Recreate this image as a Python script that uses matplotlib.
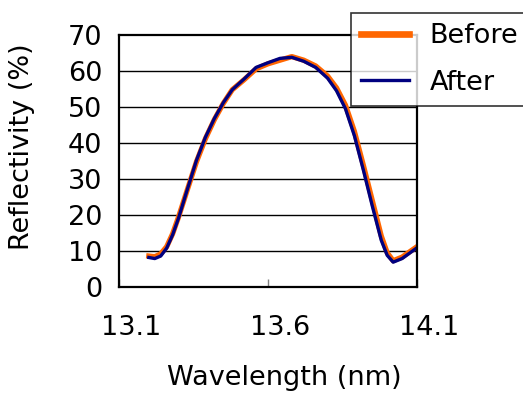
#!/usr/bin/env python3

import numpy as np
import matplotlib
matplotlib.use("Agg")
import matplotlib.pyplot as plt
import matplotlib.transforms as mtransforms

# wavelength (nm) and reflectivity (%)
wavelength = [13.20, 13.22, 13.24, 13.26, 13.28, 13.30, 13.33, 13.36, 13.39, 13.42,
              13.45, 13.48, 13.52, 13.56, 13.60, 13.64, 13.68, 13.72, 13.76, 13.80,
              13.83, 13.86, 13.89, 13.92, 13.95, 13.98, 14.00, 14.02, 14.05, 14.10]
before = [8.6, 8.4, 9.2, 11.2, 14.8, 19.5, 27.2, 34.8, 41.2, 46.5,
          51.0, 54.8, 57.6, 60.6, 62.0, 63.0, 64.0, 63.0, 61.4, 58.6,
          55.3, 50.5, 43.2, 33.8, 24.0, 14.2, 9.5, 7.3, 8.3, 11.2]
after = [8.2, 7.9, 8.6, 10.8, 14.5, 19.2, 27.3, 35.2, 41.6, 46.8,
         51.2, 54.8, 57.8, 61.0, 62.3, 63.5, 63.8, 62.7, 61.0, 58.0,
         54.5, 49.5, 42.0, 32.5, 22.5, 13.0, 8.8, 6.9, 7.9, 10.9]
xticks = [13.1, 13.6, 14.1]
yticks = [0, 10, 20, 30, 40, 50, 60, 70]

plt.rcParams['font.family'] = ['DejaVu Sans']
fs = 19.5

W, H = 523, 394
fig = plt.figure(figsize=(W/100, H/100), dpi=100)
ax = fig.add_axes([119/W, 1-287/H, 298/W, 252/H])

ax.plot(wavelength, before, color='#ff6600', lw=3.8, label='Before',
        solid_joinstyle='round')
ax.plot(wavelength, after, color='#000080', lw=2.4, label='After',
        solid_joinstyle='round')

ax.set_xlim(13.1, 14.1)
ax.set_ylim(0, 70)
ax.set_xticks(xticks)
ax.set_xticklabels(['13.1', '13.6', '14.1'])
ax.set_yticks(yticks)

for y in yticks[1:-1]:
    ax.axhline(y, color='black', lw=1, zorder=0)

ax.tick_params(axis='y', length=0, pad=12, labelsize=fs)
ax.tick_params(axis='x', direction='in', length=6, color='gray', width=1, pad=20, labelsize=fs)
# tick labels sit a bit to the right in the original
shift = mtransforms.ScaledTranslation(12/100, 0, fig.dpi_scale_trans)
for lab in ax.get_xticklabels():
    lab.set_transform(lab.get_transform() + shift)

for s in ax.spines.values():
    s.set_linewidth(1.6)
    s.set_color('black')

ax.set_xlabel('Wavelength (nm)', fontsize=fs, va='center')
ax.xaxis.set_label_coords((284-119)/298, (287-378)/252)
ax.set_ylabel('Reflectivity (%)', fontsize=fs, va='center')
ax.yaxis.set_label_coords((22-119)/298, (287-147)/252)

leg = fig.legend(loc='upper left', bbox_to_anchor=(351/W, 1-13/H), fontsize=fs,
                 frameon=True, fancybox=False, borderaxespad=0, borderpad=0.38,
                 handlelength=1.77, handletextpad=0.75, labelspacing=0.75)
leg.get_frame().set_edgecolor('black')
leg.get_frame().set_linewidth(1.2)
leg.get_lines()[0].set_linewidth(4.8)

fig.savefig('out.png', dpi=100)
